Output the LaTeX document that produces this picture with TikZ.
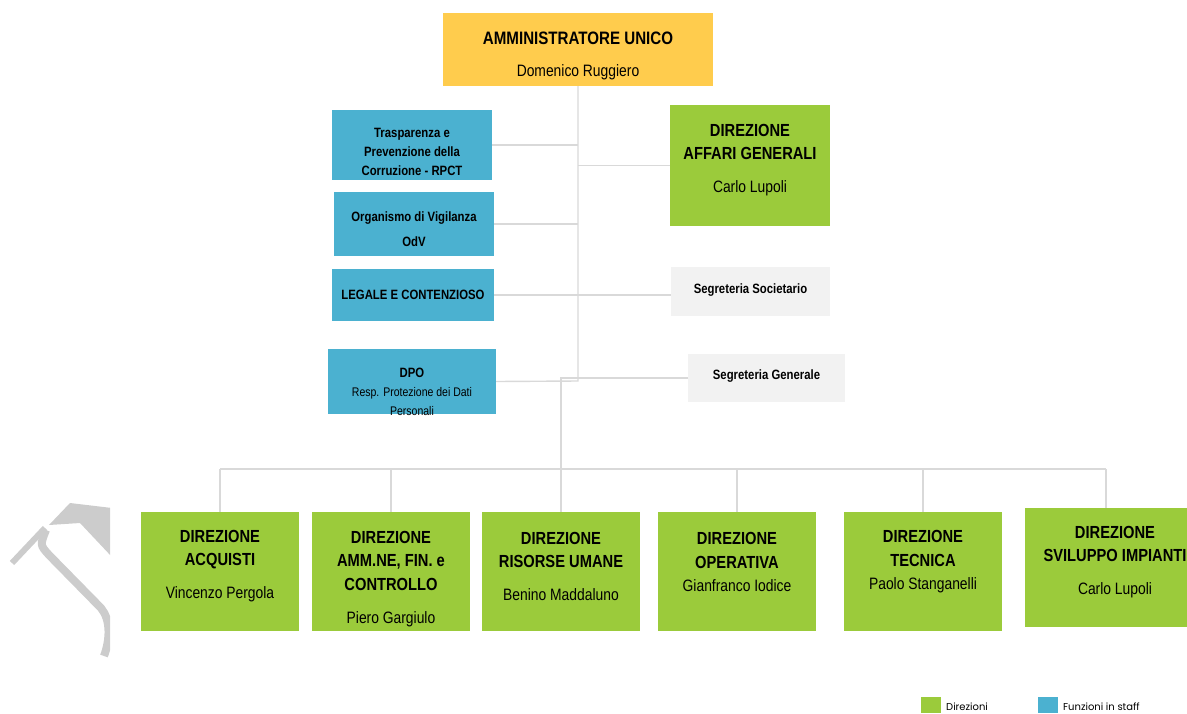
\documentclass[tikz,border=0pt]{standalone}
\usepackage{fontspec}
\usepackage{tikz}
\setmainfont{Liberation Sans}[FakeStretch=0.84]
\newfontfamily\legendfont{Poppins}
\definecolor{direzGreen}{RGB}{155,203,59}
\definecolor{staffBlue}{RGB}{75,177,208}
\definecolor{auYellow}{RGB}{255,204,77}
\definecolor{segGrey}{RGB}{242,242,242}
\definecolor{lineGrey}{RGB}{217,217,217}
\definecolor{markGrey}{RGB}{204,204,204}
\newcommand{\titletxt}{\fontsize{18}{24}\selectfont\bfseries}
\newcommand{\dirtxt}{\fontsize{17.5}{23.5}\selectfont\bfseries}
\newcommand{\nametxt}{\fontsize{16.5}{23.5}\selectfont\mdseries}
\newcommand{\stafftxt}{\fontsize{13.5}{19}\selectfont\bfseries}
\newcommand{\smalltxt}{\fontsize{12.5}{17}\selectfont\mdseries}

\begin{document}
\begin{tikzpicture}[x=1pt, y=-1pt,
    box/.style={inner sep=0pt, outer sep=0pt, minimum width=158, minimum height=119},
    dirbox/.style={box, fill=direzGreen},
    staffbox/.style={box, fill=staffBlue, minimum width=160},
    segbox/.style={box, fill=segGrey, minimum height=49},
    conn/.style={draw=lineGrey, line width=1.4pt},
    txt/.style={align=center, inner sep=0pt, text=black},
    dirtext/.style={txt, font=\dirtxt},
    stafftext/.style={txt, font=\stafftxt}]

    \useasboundingbox (0,0) rectangle (1187,713);
    \clip (0,0) rectangle (1187,713);

    % watermark
    \begin{scope}
        \clip (0,440) rectangle (110,713);
        \draw[markGrey, line width=6pt] (12,563) -- (45,528);
        \fill[markGrey] (49,525) -- (70,503) -- (112,508) -- (112,557) -- (80,523) -- cycle;
        \draw[markGrey, line width=8pt] (46,530) .. controls (40,545) .. (49,555)
            -- (101,608) .. controls (111,620) and (110,640) .. (104,656);
    \end{scope}

    % top
    \node[box, fill=auYellow, minimum width=270, minimum height=73] (au) at (578,49.5) {};
    \node[txt, font=\titletxt] (auT) at (578,56) {AMMINISTRATORE UNICO\\[8pt]{\fontsize{16.5}{20}\selectfont\mdseries Domenico Ruggiero}};

    % staff
    \node[staffbox, minimum height=70] (trasp) at (412,145) {};
    \node[stafftext] (traspT) at (412,152) {Trasparenza e\\Prevenzione della\\Corruzione - RPCT};
    \node[staffbox, minimum height=64] (odv) at (414,224) {};
    \node[stafftext] (odvT) at (414,229) {Organismo di Vigilanza\\[6pt]OdV};
    \node[staffbox, minimum width=162, minimum height=52] (legale) at (413,295) {};
    \node[stafftext] (legaleT) at (413,295) {LEGALE E CONTENZIOSO};
    \node[staffbox, minimum width=168, minimum height=65] (dpo) at (412,381.5) {};
    \node[stafftext] (dpoT) at (412,392) {DPO\\{\smalltxt Resp. Protezione dei Dati}\\{\smalltxt Personali}};

    % right side
    \node[dirbox, minimum width=160, minimum height=121] (affari) at (750,165.5) {};
    \node[dirtext] (affariT) at (750,160) {DIREZIONE\\AFFARI GENERALI\\[9pt]{\nametxt Carlo Lupoli}};
    \node[segbox, minimum width=159] (segsoc) at (750.5,291.5) {};
    \node[stafftext] (segsocT) at (750.5,290) {Segreteria Societario};
    \node[segbox, minimum width=157, minimum height=48] (seggen) at (766.5,378) {};
    \node[stafftext] (seggenT) at (766.5,376) {Segreteria Generale};

    % direzioni
    \node[dirbox] (acq) at (220,571.5) {};
    \node[dirtext] (acqT) at (220,566) {DIREZIONE\\ACQUISTI\\[9pt]{\nametxt Vincenzo Pergola}};
    \node[dirbox] (amm) at (391,571.5) {};
    \node[dirtext] (ammT) at (391,579) {DIREZIONE\\AMM.NE, FIN. e\\CONTROLLO\\[10pt]{\nametxt Piero Gargiulo}};
    \node[dirbox] (ris) at (561,571.5) {};
    \node[dirtext] (risT) at (561,566) {DIREZIONE\\RISORSE UMANE\\[9pt]{\nametxt Benino Maddaluno}};
    \node[dirbox] (oper) at (737,571.5) {};
    \node[dirtext] (operT) at (737,562) {DIREZIONE\\OPERATIVA\\{\nametxt Gianfranco Iodice}};
    \node[dirbox] (tec) at (923,571.5) {};
    \node[dirtext] (tecT) at (923,562) {DIREZIONE\\TECNICA\\{\nametxt Paolo Stanganelli}};
    \node[dirbox, minimum width=180] (svil) at (1115,567.5) {};
    \node[dirtext] (svilT) at (1115,562) {DIREZIONE\\SVILUPPO IMPIANTI\\[9pt]{\nametxt Carlo Lupoli}};

    % connectors
    \coordinate (tEnd) at (578,381);
    \coordinate (bus) at (562,469);
    \draw[conn] (au.south) -- (tEnd) -- (dpo.east);
    \draw[conn] (trasp.east) -- (trasp.east -| au.south);
    \draw[conn] (odv.east) -- (odv.east -| au.south);
    \draw[conn] (affari.west) -- (affari.west -| au.south);
    \draw[conn] (legale.east) -- (legale.east -| segsoc.west);
    \draw[conn] (seggen.west) -| (ris.north);
    \draw[conn] (acq.north |- bus) -- ([xshift=-9pt]svil.north |- bus);
    \foreach \n in {acq, amm, oper, tec} {
        \draw[conn] (\n.north) -- (\n.north |- bus);
    }
    \draw[conn] ([xshift=-9pt]svil.north) -- ([xshift=-9pt]svil.north |- bus);

    % legend
    \node[inner sep=0pt, fill=direzGreen, minimum width=20, minimum height=16] (legD) at (931,705) {};
    \node[anchor=west, inner sep=0pt] (legDT) at (946,707) {\legendfont\fontsize{10}{12}\selectfont Direzioni};
    \node[inner sep=0pt, fill=staffBlue, minimum width=20, minimum height=16] (legS) at (1048,705) {};
    \node[anchor=west, inner sep=0pt] (legST) at (1063,707) {\legendfont\fontsize{10}{12}\selectfont Funzioni in staff};

\end{tikzpicture}
\end{document}
